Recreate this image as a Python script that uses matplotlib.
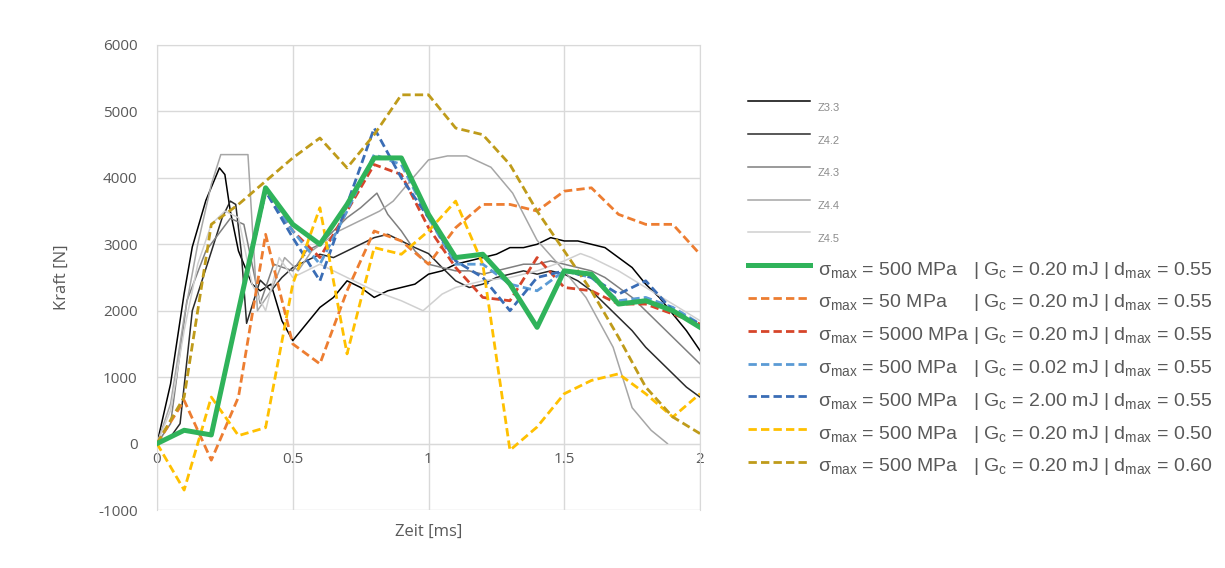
import matplotlib.pyplot as plt
import numpy as np

# time axis of the simulations [ms]
t_sim = np.round(np.arange(0, 2.01, 0.1), 2)

# simulated forces [N]
f_ref = [0, 200, 130, 2000, 3850, 3300, 3000, 3600, 4300, 4300, 3450, 2800, 2850, 2400, 1750, 2600, 2550, 2100, 2150, 2000, 1750]
f_s50 = [0, 650, -250, 700, 3150, 1500, 1200, 2300, 3200, 3050, 2700, 3250, 3600, 3600, 3500, 3800, 3850, 3450, 3300, 3300, 2850]
f_s5000 = [0, 200, 130, 2000, 3800, 3200, 2800, 3500, 4200, 4050, 3250, 2650, 2200, 2150, 2800, 2350, 2300, 2100, 2100, 1950, 1800]
f_g002 = [0, 200, 130, 2000, 3800, 3200, 2700, 3500, 4350, 4200, 3400, 2700, 2700, 2400, 2300, 2600, 2500, 2150, 2200, 2050, 1800]
f_g200 = [0, 200, 130, 2000, 3800, 3100, 2450, 3600, 4750, 4000, 3400, 2750, 2500, 2000, 2500, 2600, 2500, 2250, 2450, 2000, 1800]
f_d050 = [0, -700, 700, 120, 240, 2400, 3550, 1350, 2950, 2850, 3200, 3650, 2700, -100, 250, 750, 950, 1050, 750, 400, 750]
f_d060 = [0, 700, 3300, 3600, 3950, 4300, 4600, 4150, 4650, 5250, 5250, 4750, 4650, 4200, 3500, 2900, 2300, 1600, 850, 400, 150]

# experiments
t_z33 = [0, 0.05, 0.1, 0.13, 0.18, 0.23, 0.25, 0.27, 0.3, 0.35, 0.38, 0.42, 0.46, 0.5, 0.55, 0.6, 0.65, 0.7, 0.75, 0.8, 0.85,
         0.9, 0.95, 1.0, 1.05, 1.1, 1.15, 1.2, 1.25, 1.3, 1.35, 1.4, 1.45, 1.5, 1.55, 1.6, 1.65, 1.7, 1.75, 1.8, 1.85, 1.9, 1.95, 2.0]
f_z33 = [0, 900, 2260, 2960, 3660, 4150, 4050, 3500, 2900, 2400, 2300, 2400, 1850, 1550, 1800, 2050, 2200, 2450, 2350, 2200, 2300,
         2350, 2400, 2550, 2600, 2700, 2750, 2800, 2850, 2950, 2950, 3000, 3100, 3050, 3050, 3000, 2950, 2800, 2650, 2400, 2200, 1950, 1700, 1400]
t_z42 = [0, 0.05, 0.085, 0.13, 0.19, 0.24, 0.27, 0.29, 0.31, 0.33, 0.38, 0.42, 0.46, 0.5, 0.55, 0.6, 0.65, 0.7, 0.75, 0.8, 0.85,
         0.9, 0.95, 1.0, 1.05, 1.1, 1.15, 1.2, 1.25, 1.3, 1.35, 1.4, 1.45, 1.5, 1.55, 1.6, 1.65, 1.7, 1.75, 1.8, 1.85, 1.9, 1.95, 2.0]
f_z42 = [0, 100, 300, 2000, 2760, 3400, 3650, 3600, 2900, 1810, 2460, 2300, 2500, 2650, 2750, 2850, 2800, 2900, 3000, 3100, 3150,
         3050, 2950, 2860, 2650, 2450, 2350, 2400, 2500, 2550, 2600, 2550, 2600, 2550, 2450, 2300, 2100, 1900, 1700, 1450, 1250, 1050, 850, 700]
t_z43 = [0, 0.05, 0.11, 0.18, 0.27, 0.32, 0.38, 0.43, 0.5, 0.55, 0.6, 0.65, 0.7, 0.75, 0.81, 0.85, 0.9, 0.95, 1.0,
         1.05, 1.1, 1.15, 1.2, 1.25, 1.3, 1.35, 1.4, 1.45, 1.5, 1.55, 1.6, 1.65, 1.7, 1.75, 1.8, 1.85, 1.9, 1.95, 2.0]
f_z43 = [0, 300, 2150, 2900, 3390, 3300, 2110, 2700, 2600, 2900, 3000, 3200, 3400, 3550, 3770, 3450, 3200, 2900, 2700,
         2650, 2600, 2600, 2550, 2600, 2650, 2700, 2700, 2750, 2700, 2650, 2600, 2500, 2350, 2200, 2000, 1800, 1600, 1400, 1200]
t_z44 = [0, 0.05, 0.1, 0.15, 0.2, 0.235, 0.335, 0.37, 0.42, 0.47, 0.52, 0.57, 0.62, 0.67, 0.72, 0.77, 0.82, 0.87, 0.93, 1.0,
         1.07, 1.14, 1.23, 1.31, 1.4, 1.5, 1.58, 1.68, 1.75, 1.82, 1.88]
f_z44 = [0, 600, 1900, 3000, 3900, 4350, 4350, 2000, 2300, 2800, 2600, 2900, 3050, 3200, 3300, 3400, 3500, 3650, 3940, 4270,
         4330, 4330, 4160, 3770, 3060, 2600, 2200, 1450, 540, 200, 0]
t_z45 = [0, 0.05, 0.1, 0.15, 0.2, 0.25, 0.3, 0.35, 0.4, 0.45, 0.5, 0.55, 0.6, 0.7, 0.8, 0.9, 0.98, 1.05, 1.1, 1.2, 1.3,
         1.4, 1.5, 1.56, 1.6, 1.7, 1.8, 1.9, 2.0]
f_z45 = [0, 500, 1700, 2700, 3300, 3500, 3400, 2400, 2000, 2800, 2500, 2600, 2700, 2500, 2300, 2150, 2000, 2250, 2350, 2450, 2500,
         2600, 2750, 2860, 2800, 2600, 2350, 2100, 1850]

exp_labels = ["Z3.3", "Z4.2", "Z4.3", "Z4.4", "Z4.5"]
sim_labels = [
    r"σ$_\mathregular{max}$ = 500 MPa   | G$_\mathregular{c}$ = 0.20 mJ | d$_\mathregular{max}$ = 0.55",
    r"σ$_\mathregular{max}$ = 50 MPa     | G$_\mathregular{c}$ = 0.20 mJ | d$_\mathregular{max}$ = 0.55",
    r"σ$_\mathregular{max}$ = 5000 MPa | G$_\mathregular{c}$ = 0.20 mJ | d$_\mathregular{max}$ = 0.55",
    r"σ$_\mathregular{max}$ = 500 MPa   | G$_\mathregular{c}$ = 0.02 mJ | d$_\mathregular{max}$ = 0.55",
    r"σ$_\mathregular{max}$ = 500 MPa   | G$_\mathregular{c}$ = 2.00 mJ | d$_\mathregular{max}$ = 0.55",
    r"σ$_\mathregular{max}$ = 500 MPa   | G$_\mathregular{c}$ = 0.20 mJ | d$_\mathregular{max}$ = 0.50",
    r"σ$_\mathregular{max}$ = 500 MPa   | G$_\mathregular{c}$ = 0.20 mJ | d$_\mathregular{max}$ = 0.60",
]

plt.rcParams["font.family"] = ["Open Sans", "DejaVu Sans"]
plt.rcParams["axes.unicode_minus"] = False
txt = "#595959"

fig = plt.figure(figsize=(12.25, 5.68), dpi=100)
ax = fig.add_axes([157 / 1225, 1 - 510 / 568, 543 / 1225, 465 / 568])

exp_data = [(t_z33, f_z33), (t_z42, f_z42), (t_z43, f_z43), (t_z44, f_z44), (t_z45, f_z45)]
exp_colors = ["#000000", "#2a2a2a", "#7f7f7f", "#a6a6a6", "#d0d0d0"]
for (t, f), c, lab in zip(exp_data, exp_colors, exp_labels):
    ax.plot(t, f, color=c, lw=1.1, label=lab)

sim_data = [f_ref, f_s50, f_s5000, f_g002, f_g200, f_d050, f_d060]
sim_colors = ["#2fb35a", "#ed7d31", "#d6452a", "#5b9bd5", "#3a6db5", "#ffc000", "#bf9b1a"]
dash = (0, (3, 1.5))
for i, (f, c, lab) in enumerate(zip(sim_data, sim_colors, sim_labels)):
    if i == 0:
        ax.plot(t_sim, f, color=c, lw=3.6, label=lab, zorder=4)
    else:
        ax.plot(t_sim, f, color=c, lw=2.0, ls=dash, label=lab, zorder=3)

ax.set_xlim(0, 2)
ax.set_ylim(-1000, 6000)
ax.set_xticks([0, 0.5, 1, 1.5, 2])
ax.set_xticklabels(["0", "0.5", "1", "1.5", "2"])
ax.set_yticks(range(-1000, 6001, 1000))
ax.grid(color="#d9d9d9", lw=1)
ax.set_axisbelow(True)
for s in ["top", "right", "left"]:
    ax.spines[s].set_color("#d9d9d9")
ax.spines["bottom"].set_position(("data", 0))
ax.spines["bottom"].set_color("#d9d9d9")
ax.tick_params(length=0, labelsize=11, labelcolor=txt)
ax.tick_params(axis="y", pad=14)
ax.tick_params(axis="x", pad=6)

ax.set_ylabel("Kraft [N]", fontsize=12, color=txt)
ax.yaxis.set_label_coords(-0.16, 0.5)
ax.set_xlabel("Zeit [ms]", fontsize=12, color=txt)
ax.xaxis.set_label_coords(0.5, -0.03)

leg = fig.legend(loc="upper left", bbox_to_anchor=(748 / 1225, 1 - 92 / 568), frameon=False,
                 handlelength=3.2, handleheight=1.6, handletextpad=0.4, labelspacing=0.4,
                 borderpad=0, borderaxespad=0, prop={"family": "Liberation Sans", "size": 14})
for i, t in enumerate(leg.get_texts()):
    t.set_color(txt)
    if i < 5:
        t.set_fontsize(8)
        t.set_color("#8c8c8c")

fig.savefig("out.png", dpi=100)
